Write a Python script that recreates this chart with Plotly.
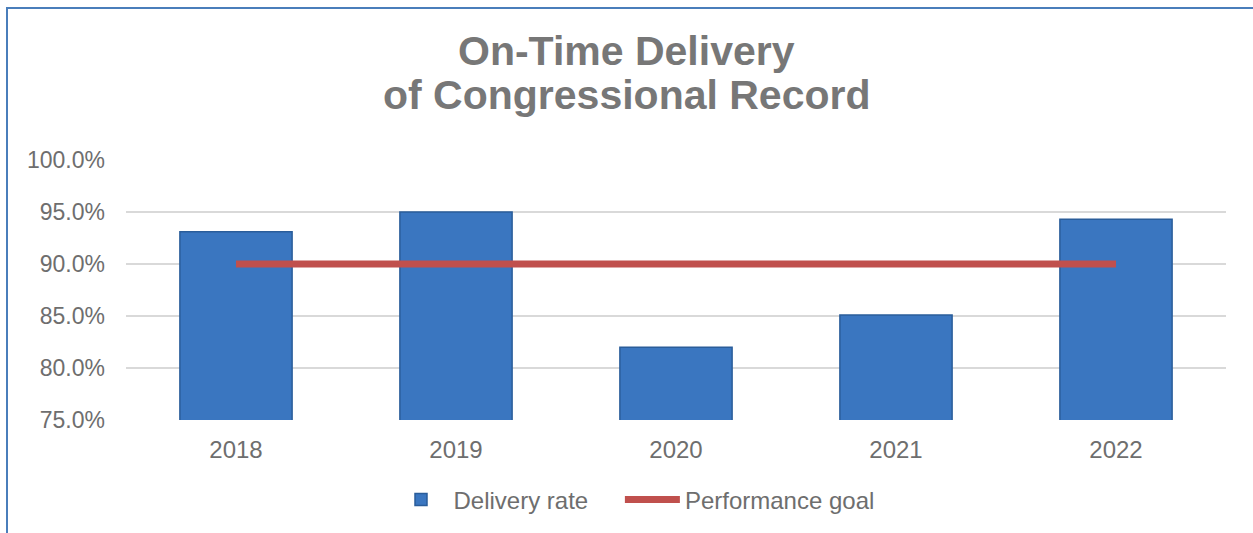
import plotly.graph_objects as go

years = ["2018", "2019", "2020", "2021", "2022"]
delivery_rate = [0.931, 0.950, 0.820, 0.851, 0.943]
performance_goal = [0.90, 0.90, 0.90, 0.90, 0.90]
y_ticks = [0.75, 0.80, 0.85, 0.90, 0.95, 1.00]
title_lines = ["On-Time Delivery", "of Congressional Record"]
series_names = ["Delivery rate", "Performance goal"]

text_gray = "#6e6e6e"
W, H = 1253, 533
PL, PT, PW, PH = 126, 160, 1100, 260  # plot area in pixels
NBSP = "\u00a0"


def px_x(x):
    return (x - PL) / PW


def px_y(y):
    return (PT + PH - y) / PH


fig = go.Figure()
fig.add_trace(go.Bar(
    x=years, y=delivery_rate, name=series_names[0] + NBSP * 4,
    marker=dict(color="#3a76c0", line=dict(color="#2a5d9a", width=1.5)),
    width=0.51,
))
fig.add_trace(go.Scatter(
    x=years, y=performance_goal, name=series_names[1], mode="lines",
    line=dict(color="#c0504d", width=7),
))

title_centers = [51, 95]
annotations = [
    dict(text="<b>%s</b>" % t, xref="paper", yref="paper",
         x=px_x(W / 2), xanchor="center", y=px_y(c), yanchor="middle",
         showarrow=False,
         font=dict(size=41, color="#777777", family="Liberation Sans, Arial, sans-serif"))
    for t, c in zip(title_lines, title_centers)
]

fig.update_layout(
    width=W, height=H,
    margin=dict(l=PL, r=W - PL - PW, t=PT, b=H - PT - PH),
    paper_bgcolor="white", plot_bgcolor="white",
    font=dict(family="Liberation Sans, Arial, sans-serif", color=text_gray, size=23),
    annotations=annotations,
    showlegend=True,
    legend=dict(
        orientation="h", xref="container", yref="container",
        x=634 / W, xanchor="center", y=1 - 500 / H, yanchor="middle",
        font=dict(size=24, color=text_gray), itemwidth=55,
        traceorder="normal",
    ),
    shapes=[dict(
        type="rect", xref="paper", yref="paper",
        x0=px_x(7), x1=px_x(1265), y0=px_y(545), y1=px_y(8),
        line=dict(color="#4a7ebb", width=2), fillcolor="rgba(0,0,0,0)",
        layer="below",
    )],
)
fig.update_xaxes(
    showgrid=False, showline=False, ticks="", tickfont=dict(size=24, color=text_gray),
    ticklabelstandoff=13,
)
fig.update_yaxes(
    range=[0.75, 1.0], tickvals=y_ticks, tickformat=".1%",
    showgrid=True, gridcolor="#d9d9d9", gridwidth=2, zeroline=False,
    showline=False, ticks="", tickfont=dict(size=23, color=text_gray),
    ticklabelstandoff=20,
)

fig.write_html("out.html", config={"displayModeBar": False},
               post_script="document.body.style.margin='0';")
